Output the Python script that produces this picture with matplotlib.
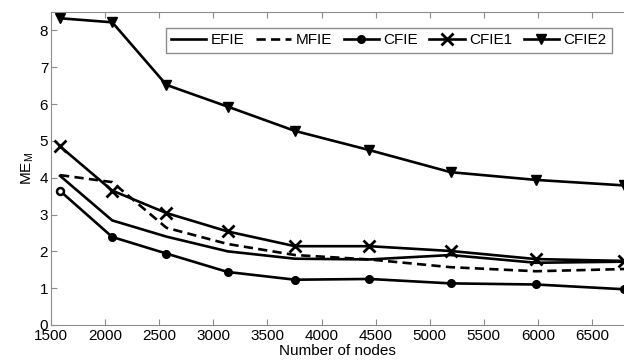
import matplotlib
matplotlib.use("Agg")
import matplotlib.pyplot as plt

plt.rcParams['font.family'] = ['Liberation Sans', 'DejaVu Sans']

# 节点数
nodes = [1584, 2066, 2567, 3133, 3755, 4442, 5193, 5982, 6800]
efie = [4.05, 2.84, 2.40, 2.00, 1.80, 1.78, 1.90, 1.69, 1.72]
mfie = [4.07, 3.88, 2.64, 2.20, 1.90, 1.78, 1.57, 1.46, 1.52]
cfie = [3.64, 2.39, 1.94, 1.44, 1.23, 1.25, 1.13, 1.10, 0.97]
cfie1 = [4.85, 3.65, 3.04, 2.54, 2.14, 2.14, 2.01, 1.79, 1.74]
cfie2 = [8.33, 8.22, 6.52, 5.93, 5.27, 4.75, 4.15, 3.94, 3.79]

fig = plt.figure(figsize=(6.24, 3.64), dpi=100)
ax = fig.add_axes([51 / 624, 39 / 364, 573.5 / 624, 313 / 364])

lw = 1.9
ax.plot(nodes, efie, color='black', lw=lw, label='EFIE')
ax.plot(nodes, mfie, color='black', lw=lw, ls=(0, (3.5, 2)), label='MFIE')
ax.plot(nodes, cfie, color='black', lw=lw, marker='o', ms=5.5, markevery=list(range(1, len(nodes))), label='CFIE')
# 第一个点是空心圆
ax.plot(nodes[:1], cfie[:1], ls='none', marker='o', ms=5, mfc='white', mec='black', mew=1.8)
ax.plot(nodes, cfie1, color='black', lw=lw, marker='x', ms=9, mew=2, label='CFIE1')
ax.plot(nodes, cfie2, color='black', lw=lw, marker='v', ms=7, label='CFIE2')

ax.set_xlim(1500, 6800)
ax.set_ylim(0, 8.5)
ax.set_xticks(range(1500, 7000, 500))
ax.set_yticks(range(0, 9))

for s in ['left', 'bottom', 'top']:
    ax.spines[s].set_color('#8c8c8c')
ax.spines['right'].set_visible(False)
ax.tick_params(direction='in', top=True, right=False, color='#8c8c8c', length=4, labelsize=11, pad=3)
ax.tick_params(axis='y', pad=2)

ax.set_xlabel('Number of nodes', fontsize=11, labelpad=0.5)
ax.set_ylabel('ME$_\\mathregular{M}$', fontsize=11, labelpad=3)

leg = ax.legend(loc='upper right', ncol=5, fontsize=11, handlelength=2.3, handletextpad=0.3,
                columnspacing=0.75, borderpad=0.35, borderaxespad=0, fancybox=False, framealpha=1,
                bbox_to_anchor=((612 - 51) / 573.5, (325 - 28) / 313))
leg.get_frame().set_edgecolor('#8c8c8c')
leg.get_frame().set_linewidth(1.0)

plt.savefig('out.png', dpi=100)
